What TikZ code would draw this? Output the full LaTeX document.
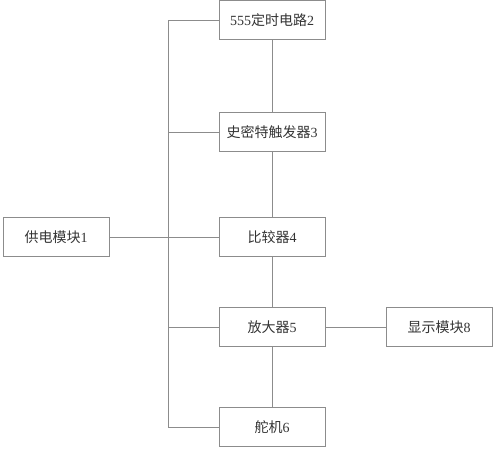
\documentclass[tikz,border=0pt]{standalone}
\usepackage{fontspec}
\setmainfont{Liberation Serif}
\newfontfamily\cjk{Noto Sans CJK SC}
\begin{document}
\begin{tikzpicture}[x=1pt,y=-1pt,
  box/.style={draw=black!45, line width=0.6pt, minimum width=106pt, minimum height=39pt, inner sep=0pt, font=\fontsize{14}{16}\selectfont, text=black!80},
  wire/.style={draw=black!45, line width=0.6pt}]
\useasboundingbox (0,0) rectangle (494,450);
\node[box] (n2) at (272,20) {555{\cjk 定时电路}2};
\node[box] (n3) at (272,132) {{\cjk 史密特触发器}3};
\node[box] (n1) at (56,237) {{\cjk 供电模块}1};
\node[box] (n4) at (272,237) {{\cjk 比较器}4};
\node[box] (n5) at (272,327) {{\cjk 放大器}5};
\node[box] (n8) at (439,327) {{\cjk 显示模块}8};
\node[box] (n6) at (272,427) {{\cjk 舵机}6};
\coordinate (t) at (168,20);
\coordinate (b) at (168,427);
\path[wire] (n2) -- (n3) -- (n4) -- (n5) -- (n6);
\path[wire] (n5) -- (n8);
\path[wire] (n1) -- (n4);
\path[wire] (n2.west) -- (t) -- (b) -- (n6.west);
\path[wire] (n3.west) -- (n3.west -| t);
\path[wire] (n5.west) -- (n5.west -| t);
\end{tikzpicture}
\end{document}
